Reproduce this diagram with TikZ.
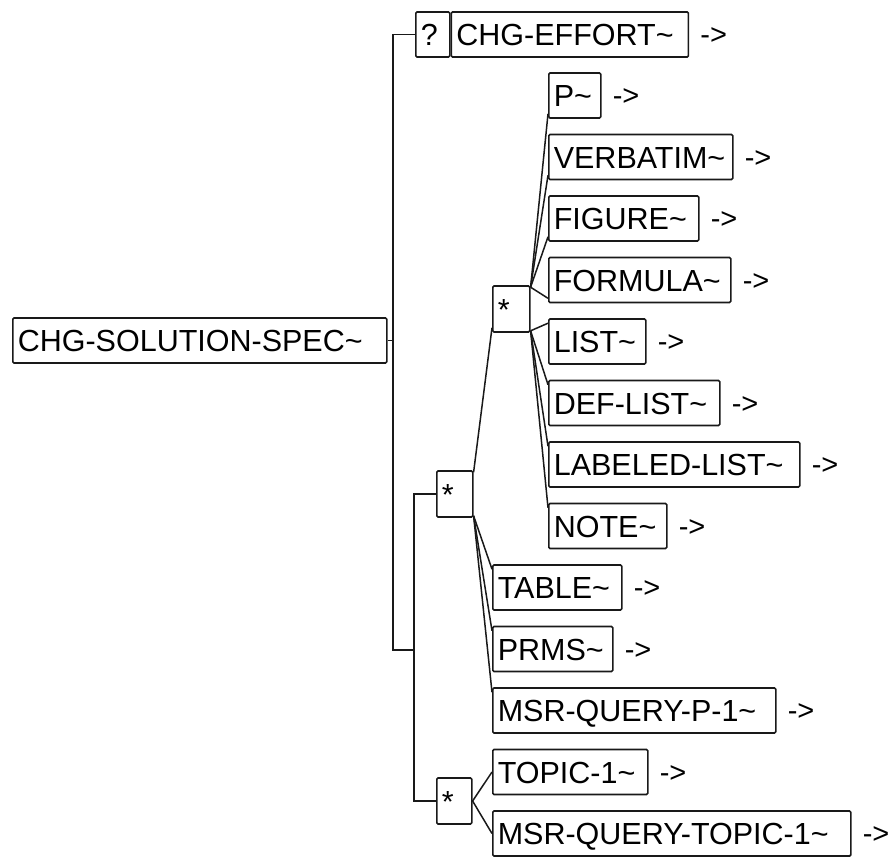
\documentclass[tikz,border=0pt]{standalone}
\usepackage{fontspec}
\setmainfont{Liberation Sans}
\newcommand\bt[2]{\makebox[#1pt][l]{#2}}
\begin{document}
\begin{tikzpicture}[x=1pt,y=-1pt,
  ent/.style={draw=black!90, line width=1.6pt, rounded corners=1.2pt, inner xsep=5pt, inner ysep=0pt,
    minimum height=45pt, text height=22pt, text depth=0pt, anchor=west,
    font=\fontsize{30.5}{30.5}\selectfont},
  star/.style={ent, minimum height=46pt},
  arr/.style={inner sep=0pt, xshift=11pt, yshift=-2pt, font=\fontsize{29}{29}\selectfont},
  nxt/.style={label={[arr]right:{->}}},
  con/.style={draw=black!90, line width=1.5pt}]
\useasboundingbox (0,0) rectangle (892,860);

\node[ent] (root) at (12,340.5) {\bt{364}{CHG-SOLUTION-SPEC\textasciitilde}};
\node[ent] (q) at (415,34.5) {\bt{24}{?}};
\node[ent, nxt] (effort) at (q.east) {\bt{227}{CHG-EFFORT\textasciitilde}};

\node[star] (s2) at (492,309) {\bt{27}{*}};
\node[ent, nxt] (p) at (548,95.5) {\bt{42}{P\textasciitilde}};
\node[ent, nxt] (verb) at (548,157) {\bt{174}{VERBATIM\textasciitilde}};
\node[ent, nxt] (fig) at (548,218.5) {\bt{140}{FIGURE\textasciitilde}};
\node[ent, nxt] (form) at (548,280) {\bt{172}{FORMULA\textasciitilde}};
\node[ent, nxt] (list) at (548,341.5) {\bt{87}{LIST\textasciitilde}};
\node[ent, nxt] (deflist) at (548,403) {\bt{161}{DEF-LIST\textasciitilde}};
\node[ent, nxt] (lablist) at (548,464.5) {\bt{241}{LABELED-LIST\textasciitilde}};
\node[ent, nxt] (note) at (548,526) {\bt{108}{NOTE\textasciitilde}};

\node[star] (s1) at (436,494) {\bt{26}{*}};
\node[ent, nxt] (table) at (492,587.5) {\bt{119}{TABLE\textasciitilde}};
\node[ent, nxt] (prms) at (492,649) {\bt{110}{PRMS\textasciitilde}};
\node[ent, nxt] (mqp) at (492,710.5) {\bt{273}{MSR-QUERY-P-1\textasciitilde}};

\node[star] (s3) at (436,801) {\bt{25}{*}};
\node[ent, nxt] (topic) at (492,772) {\bt{145}{TOPIC-1\textasciitilde}};
\node[ent, nxt] (mqt) at (492,833.5) {\bt{348}{MSR-QUERY-TOPIC-1\textasciitilde}};

\coordinate (tr) at (393,650);
\coordinate (jk) at (414,650);

\draw[con] (root.east) -- (root.east -| tr);
\draw[con] (q.west) -| (tr) -- (jk);
\draw[con] (s1.west) -| (jk) |- (s3.west);

\foreach \c in {p,verb,fig,form}
  \draw[con] ([yshift=-2pt]s2.north east) -- ([yshift=5pt]\c.south west);
\foreach \c in {list,deflist,lablist,note}
  \draw[con] ([yshift=2pt]s2.south east) -- ([yshift=-5pt]\c.north west);
\draw[con] ([yshift=-2pt]s1.north east) -- ([yshift=5pt]s2.south west);
\foreach \c in {table,prms,mqp}
  \draw[con] ([yshift=2pt]s1.south east) -- ([yshift=-5pt]\c.north west);
\foreach \c in {topic,mqt}
  \draw[con] (s3.east) -- (\c.west);
\end{tikzpicture}
\end{document}
